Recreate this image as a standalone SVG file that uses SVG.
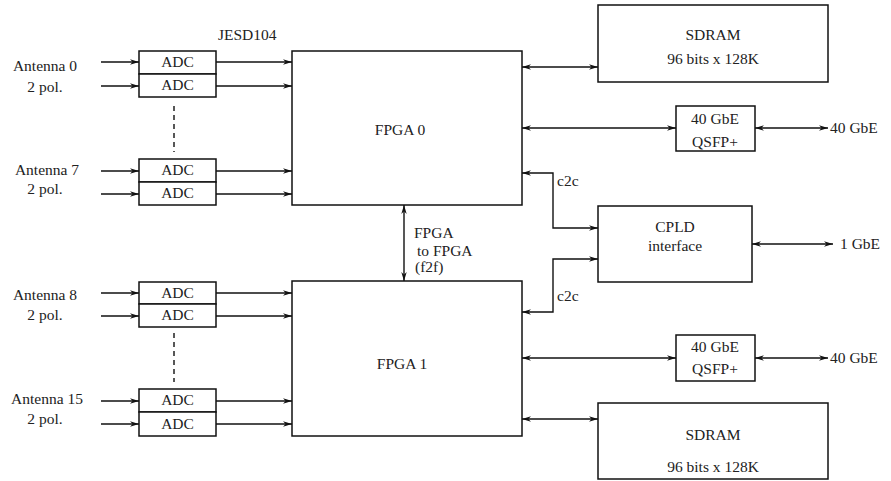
<svg xmlns="http://www.w3.org/2000/svg" width="891" height="481" viewBox="0 0 891 481" font-family="'Liberation Serif', 'Times New Roman', Times, 'DejaVu Serif', serif">
<style>
  .box{fill:#fff;stroke:#111;stroke-width:1.5}
  .ln{fill:none;stroke:#111;stroke-width:1.4}
  .uni{marker-end:url(#ah)}
  .bi{marker-start:url(#ah);marker-end:url(#ah)}
  .dash{fill:none;stroke:#111;stroke-width:1.4;stroke-dasharray:5 4}
  text{font-family:'Liberation Serif','Times New Roman',Times,'DejaVu Serif',serif;font-size:15.5px;fill:#222}
  .c{text-anchor:middle}
</style>
<defs>
  <marker id="ah" viewBox="0 0 10 6" refX="10" refY="3" markerWidth="9" markerHeight="5.4" markerUnits="userSpaceOnUse" orient="auto-start-reverse">
    <path d="M0,0 L10,3 L0,6 L3,3 z" fill="#111"/>
  </marker>
</defs>
<rect width="891" height="481" fill="#fff"/>

<g id="connectors">
  <path class="ln uni" d="M101,62 H139"/>
  <path class="ln uni" d="M101,86 H139"/>
  <path class="ln uni" d="M101,171 H139"/>
  <path class="ln uni" d="M101,194 H139"/>
  <path class="ln uni" d="M101,293 H139"/>
  <path class="ln uni" d="M101,316 H139"/>
  <path class="ln uni" d="M101,401 H139"/>
  <path class="ln uni" d="M101,424 H139"/>
  <path class="ln uni" d="M216,62 H292"/>
  <path class="ln uni" d="M216,86 H292"/>
  <path class="ln uni" d="M216,171 H292"/>
  <path class="ln uni" d="M216,194 H292"/>
  <path class="ln uni" d="M216,293 H292"/>
  <path class="ln uni" d="M216,316 H292"/>
  <path class="ln uni" d="M216,401 H292"/>
  <path class="ln uni" d="M216,424 H292"/>
  <path class="dash" d="M174,106 V152"/>
  <path class="dash" d="M174,333 V382"/>
  <path class="ln bi" d="M522,67 H598"/>
  <path class="ln bi" d="M522,128 H676"/>
  <path class="ln bi" d="M755,128 H828"/>
  <path class="ln bi" d="M522,173 H553 V228 H598"/>
  <path class="ln bi" d="M598,259 H553 V312 H522"/>
  <path class="ln bi" d="M752,244 H833"/>
  <path class="ln bi" d="M404,205 V281"/>
  <path class="ln bi" d="M522,358 H676"/>
  <path class="ln bi" d="M755,358 H828"/>
  <path class="ln bi" d="M522,419 H598"/>
</g>

<g id="labels">
  <text class="c" x="45" y="71">Antenna 0</text>
  <text class="c" x="45" y="92">2 pol.</text>
  <text class="c" x="47" y="175">Antenna 7</text>
  <text class="c" x="45" y="194">2 pol.</text>
  <text class="c" x="45" y="300">Antenna 8</text>
  <text class="c" x="45" y="320">2 pol.</text>
  <text class="c" x="47" y="404">Antenna 15</text>
  <text class="c" x="45" y="424">2 pol.</text>
  <text x="218" y="40">JESD104</text>
  <text x="414" y="238">FPGA</text>
  <text x="417" y="256">to FPGA</text>
  <text x="415" y="272">(f2f)</text>
  <text x="557" y="186">c2c</text>
  <text x="557" y="301">c2c</text>
  <text x="830" y="133">40 GbE</text>
  <text x="840" y="249">1 GbE</text>
  <text x="830" y="363">40 GbE</text>
</g>

<g id="adc0a"><rect class="box" x="139" y="51" width="77" height="23"/><text class="c" x="177.5" y="67">ADC</text></g>
<g id="adc0b"><rect class="box" x="139" y="74" width="77" height="23"/><text class="c" x="177.5" y="90">ADC</text></g>
<g id="adc7a"><rect class="box" x="139" y="159" width="77" height="23"/><text class="c" x="177.5" y="175">ADC</text></g>
<g id="adc7b"><rect class="box" x="139" y="182" width="77" height="23"/><text class="c" x="177.5" y="198">ADC</text></g>
<g id="adc8a"><rect class="box" x="139" y="282" width="77" height="22"/><text class="c" x="177.5" y="298">ADC</text></g>
<g id="adc8b"><rect class="box" x="139" y="304" width="77" height="23"/><text class="c" x="177.5" y="320">ADC</text></g>
<g id="adc15a"><rect class="box" x="139" y="389" width="77" height="23"/><text class="c" x="177.5" y="405">ADC</text></g>
<g id="adc15b"><rect class="box" x="139" y="412" width="77" height="24"/><text class="c" x="177.5" y="429">ADC</text></g>

<g id="fpga0"><rect class="box" x="292" y="51" width="230" height="154"/><text class="c" x="400" y="135">FPGA 0</text></g>
<g id="fpga1"><rect class="box" x="292" y="281" width="230" height="155"/><text class="c" x="402" y="369">FPGA 1</text></g>

<g id="sdram0"><rect class="box" x="598" y="5" width="230" height="77"/><text class="c" x="713" y="40">SDRAM</text><text class="c" x="713" y="64">96 bits x 128K</text></g>
<g id="sdram1"><rect class="box" x="598" y="403" width="230" height="76"/><text class="c" x="713" y="440">SDRAM</text><text class="c" x="713" y="472">96 bits x 128K</text></g>

<g id="qsfp0"><rect class="box" x="676" y="106" width="79" height="45"/><text class="c" x="715" y="124">40 GbE</text><text class="c" x="715" y="147">QSFP+</text></g>
<g id="qsfp1"><rect class="box" x="676" y="335" width="79" height="46"/><text class="c" x="715" y="352">40 GbE</text><text class="c" x="715" y="374">QSFP+</text></g>

<g id="cpld"><rect class="box" x="598" y="206" width="154" height="76"/><text class="c" x="675" y="232">CPLD</text><text class="c" x="675" y="251">interface</text></g>
</svg>
